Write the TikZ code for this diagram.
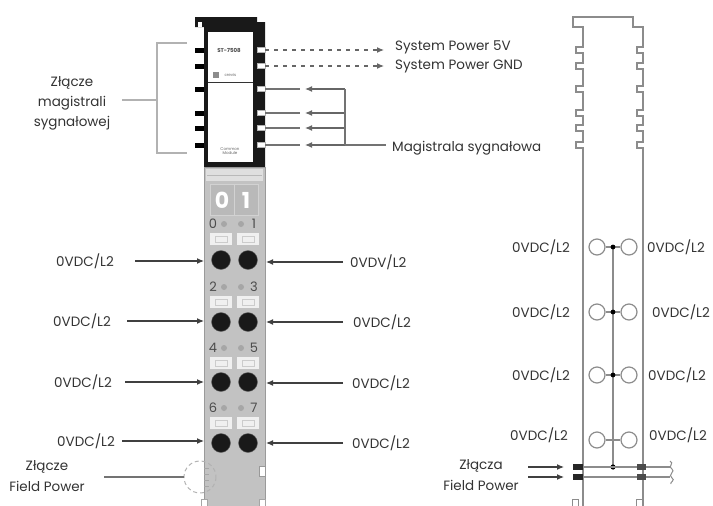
\documentclass[tikz,border=0pt]{standalone}
\usepackage{fontspec}
\setmainfont{Poppins}
\usetikzlibrary{arrows.meta}
\definecolor{ink}{HTML}{333333}
\definecolor{body}{HTML}{C2C2C2}
\definecolor{bodyedge}{HTML}{9A9A9A}
\definecolor{wallc}{HTML}{8C8C8C}
\begin{document}
\begin{tikzpicture}[x=1pt,y=-1pt,
  lbl/.style={font=\fontsize{13.5}{16}\selectfont, text=ink, inner sep=0pt},
  arr/.style={-{Latex[length=7pt,width=6pt]}, draw=black!75, line width=1.1pt},
  plain/.style={draw=black!60, line width=1.1pt},
  wall/.style={draw=wallc, line width=1.5pt, line join=miter},
  term/.style={circle, fill=black!90, draw=black!60, minimum size=19pt, inner sep=0pt},
  ring/.style={circle, draw=wallc, line width=1.2pt, minimum size=16pt, inner sep=0pt},
  led/.style={circle, fill=gray!70, minimum size=6pt, inner sep=0pt},
  digit/.style={font=\fontsize{13}{13}\selectfont, text=black!70, inner sep=0pt}]
\useasboundingbox (0,0) rectangle (713,506);

% ---------- left module: black bus head ----------
\fill[black!90] (195,17) -- (257,17) -- (257,22) -- (265,22) -- (265,167)
  -- (204,167) -- (204,27) -- (195,27) -- cycle;
\fill[white] (198,22) rectangle (202,27);
\fill[white] (208,32) rectangle (253,162);
\draw[black!80, line width=0.8pt] (208,82) -- (253,82);
\node[font=\bfseries\fontsize{5.5}{6}\selectfont, text=black!70] (partno) at (229,50) {ST-7508};
\fill[black!45] (213,72) rectangle (219,78);
\node[font=\fontsize{4}{5}\selectfont, text=black!60, anchor=west] (brand) at (221,75) {crevis};
\node[font=\fontsize{4}{4.5}\selectfont, text=black!60, align=center] (modname) at (230,151) {Common\\Module};

% bus pins
\foreach \y [count=\i] in {50,66,89,113,128,145}{
  \fill[black] (195,\y-2.5) rectangle (204,\y+2.5);
  \filldraw[fill=white, draw=gray!60, line width=0.6pt] (257,\y-2.5) rectangle (265,\y+2.5);
  \coordinate (lp\i) at (195,\y);
  \coordinate (rp\i) at (265,\y);
}

% ---------- left module: grey field body ----------
\filldraw[fill=body, draw=bodyedge, line width=1pt] (204,167) rectangle (265,507);
\fill[gray!25] (206,169) rectangle (263,181);
\draw[gray!55, line width=0.6pt] (207,175) -- (262,175);
\filldraw[fill=gray!55, draw=gray!35, line width=1pt] (210,184) rectangle (258,215);
\draw[gray!35, line width=1pt] (234,184) -- (234,215);
\node[font=\bfseries\fontsize{22}{22}\selectfont, text=white] (d0) at (222,200) {0};
\node[font=\bfseries\fontsize{22}{22}\selectfont, text=white] (d1) at (246,200) {1};

\foreach \ly/\ty/\a/\b [count=\i] in {224/260/0/1, 287/322/2/3, 348/382/4/5, 408/443/6/7}{
  \node[digit] (na\i) at (213,\ly) {\a};
  \node[led] (la\i) at (224,\ly) {};
  \node[led] (lb\i) at (241,\ly) {};
  \node[digit] (nb\i) at (254,\ly) {\b};
  \fill[gray!12] (210,\ly+9) rectangle (232,\ly+21);
  \fill[gray!12] (237,\ly+9) rectangle (259,\ly+21);
  \draw[gray!40, line width=0.5pt] (215,\ly+12) rectangle (227,\ly+18);
  \draw[gray!40, line width=0.5pt] (242,\ly+12) rectangle (254,\ly+18);
  \node[term] (ta\i) at (221,\ty) {};
  \node[term] (tb\i) at (248,\ty) {};
}

% field power contact at the foot
\draw[gray!60, dashed, line width=1pt, dash pattern=on 4pt off 3pt] (200,477) circle (16);
\foreach \y in {468,474,480,486}{\draw[gray!70, line width=1pt] (204,\y) -- (209,\y);}
\draw[gray!80, line width=1pt, fill=white] (265,466) -- (259,466) -- (259,476) -- (265,476);
\filldraw[fill=white, draw=gray!70] (201,499) rectangle (207,506);
\filldraw[fill=white, draw=gray!70] (259,499) rectangle (265,506);
\coordinate (fpc) at (184,477);

% ---------- labels and arrows of the left module ----------
\node[lbl, align=center] (busconn) at (72,103) {Złącze\\[4pt]magistrali\\[4pt]sygnałowej};
\coordinate (brT) at (187,43);
\coordinate (brB) at (187,153);
\coordinate (brM) at (157,100);
\coordinate (brL) at (122,100);
\draw[plain, draw=gray!60, line width=1.2pt] (brT) -| (brM) |- (brB);
\draw[plain, draw=gray!60, line width=1.2pt] (brL) -- (brM);

\node[lbl, anchor=west] (sp5) at (395,47) {System Power 5V};
\node[lbl, anchor=west] (spg) at (395,66) {System Power GND};
\coordinate (sp5e) at (384,50);
\coordinate (spge) at (384,66);
\draw[arr, dashed, dash pattern=on 4pt off 5pt, draw=black!60] (rp1) -- (sp5e);
\draw[arr, dashed, dash pattern=on 4pt off 5pt, draw=black!60] (rp2) -- (spge);

\node[lbl, anchor=west] (sbus) at (392,148) {Magistrala sygnałowa};
\foreach \y/\i in {89/3,113/4,128/5,145/6}{
  \coordinate (sg\i) at (300,\y);
  \coordinate (st\i) at (305,\y);
  \coordinate (sv\i) at (345,\y);
  \draw[plain, draw=black!55] (rp\i) -- (sg\i);
  \draw[arr, draw=black!60] (sv\i) -- (st\i);
}
\draw[plain, draw=black!55] (sv3) -- (sv6);
\coordinate (sbe) at (386,145);
\draw[plain, draw=black!55] (sv6) -- (sbe);

% left 0VDC labels
\foreach \lx/\ly/\sx [count=\i] in {85/261/135, 82/321/127, 83/382/125, 86/441/122}{
  \node[lbl] (ll\i) at (\lx,\ly) {0VDC/L2};
  \coordinate (lls\i) at (\sx,\ly);
  \coordinate (lle\i) at (204,\ly);
  \draw[arr] (lls\i) -- (lle\i);
}
% right 0VDC labels
\node[lbl, anchor=west] (rl1) at (350,262) {0VDV/L2};
\node[lbl, anchor=west] (rl2) at (353,322) {0VDC/L2};
\node[lbl, anchor=west] (rl3) at (352,383) {0VDC/L2};
\node[lbl, anchor=west] (rl4) at (352,443) {0VDC/L2};
\foreach \ly [count=\i] in {262,322,383,443}{
  \coordinate (rls\i) at (343,\ly);
  \coordinate (rle\i) at (266,\ly);
  \draw[arr] (rls\i) -- (rle\i);
}

\node[lbl, align=center] (fpl) at (47,476) {Złącze\\[5pt]Field Power};
\coordinate (fps) at (104,477);
\draw[plain, draw=black!55] (fps) -- (fpc);

% ---------- right module: outline ----------
\draw[wall] (583,507) -- (583,148)
  \foreach \t in {145,128,113,89,66,50}{ -- (583,\t+3) -- (576,\t+3) -- (576,\t-3) -- (583,\t-3) }
  -- (583,27) -- (573,27) -- (573,17) -- (633,17) -- (633,27) -- (643,27)
  \foreach \t in {50,66,89,113,128,145}{ -- (643,\t-3) -- (637,\t-3) -- (637,\t+3) -- (643,\t+3) }
  -- (643,507);
\draw[wall, line width=1pt] (572,499) rectangle (578,507);
\draw[wall, line width=1pt] (636,499) rectangle (642,507);

% rings with the common rail
\coordinate (railT) at (613,247);
\coordinate (railB) at (613,467);
\draw[wall, line width=1.2pt] (railT) -- (railB);
\foreach \y [count=\i] in {247,312,375,440}{
  \node[ring] (ca\i) at (597,\y) {};
  \node[ring] (cb\i) at (629,\y) {};
  \draw[wall, line width=1.2pt] (ca\i) -- (cb\i);
}
\foreach \y in {247,312,375}{\fill[black] (613,\y) circle (2.4pt);}
\fill[black] (railB) circle (2.6pt);

% field power rails
\foreach \y [count=\i] in {467,477}{
  \coordinate (fa\i) at (573,\y);
  \coordinate (fb\i) at (670,\y);
  \draw[wall, line width=1.2pt] (fa\i) -- (fb\i);
  \fill[black!85] (573,\y-3) rectangle (583,\y+3);
  \fill[black!70] (637,\y-3) rectangle (646,\y+3);
}
\draw[wall, line width=1pt] (670,461) .. controls (675,463) and (667,467) .. (672,469)
  .. controls (676,471) and (667,475) .. (672,478) .. controls (676,480) and (669,483) .. (671,484);

% right module labels
\foreach \ly/\lx [count=\i] in {247/570, 312/570, 375/570, 435/568}{
  \node[lbl, anchor=east] (ml\i) at (\lx,\ly) {0VDC/L2};
}
\foreach \ly/\lx [count=\i] in {247/647, 312/652, 375/648, 435/649}{
  \node[lbl, anchor=west] (mr\i) at (\lx,\ly) {0VDC/L2};
}
\node[lbl, align=center] (fpr) at (481,475) {Złącza\\[5pt]Field Power};
\coordinate (fq1) at (528,467);
\coordinate (fq2) at (528,477);
\coordinate (fr1) at (564,467);
\coordinate (fr2) at (564,477);
\draw[arr] (fq1) -- (fr1);
\draw[arr] (fq2) -- (fr2);
\end{tikzpicture}
\end{document}
